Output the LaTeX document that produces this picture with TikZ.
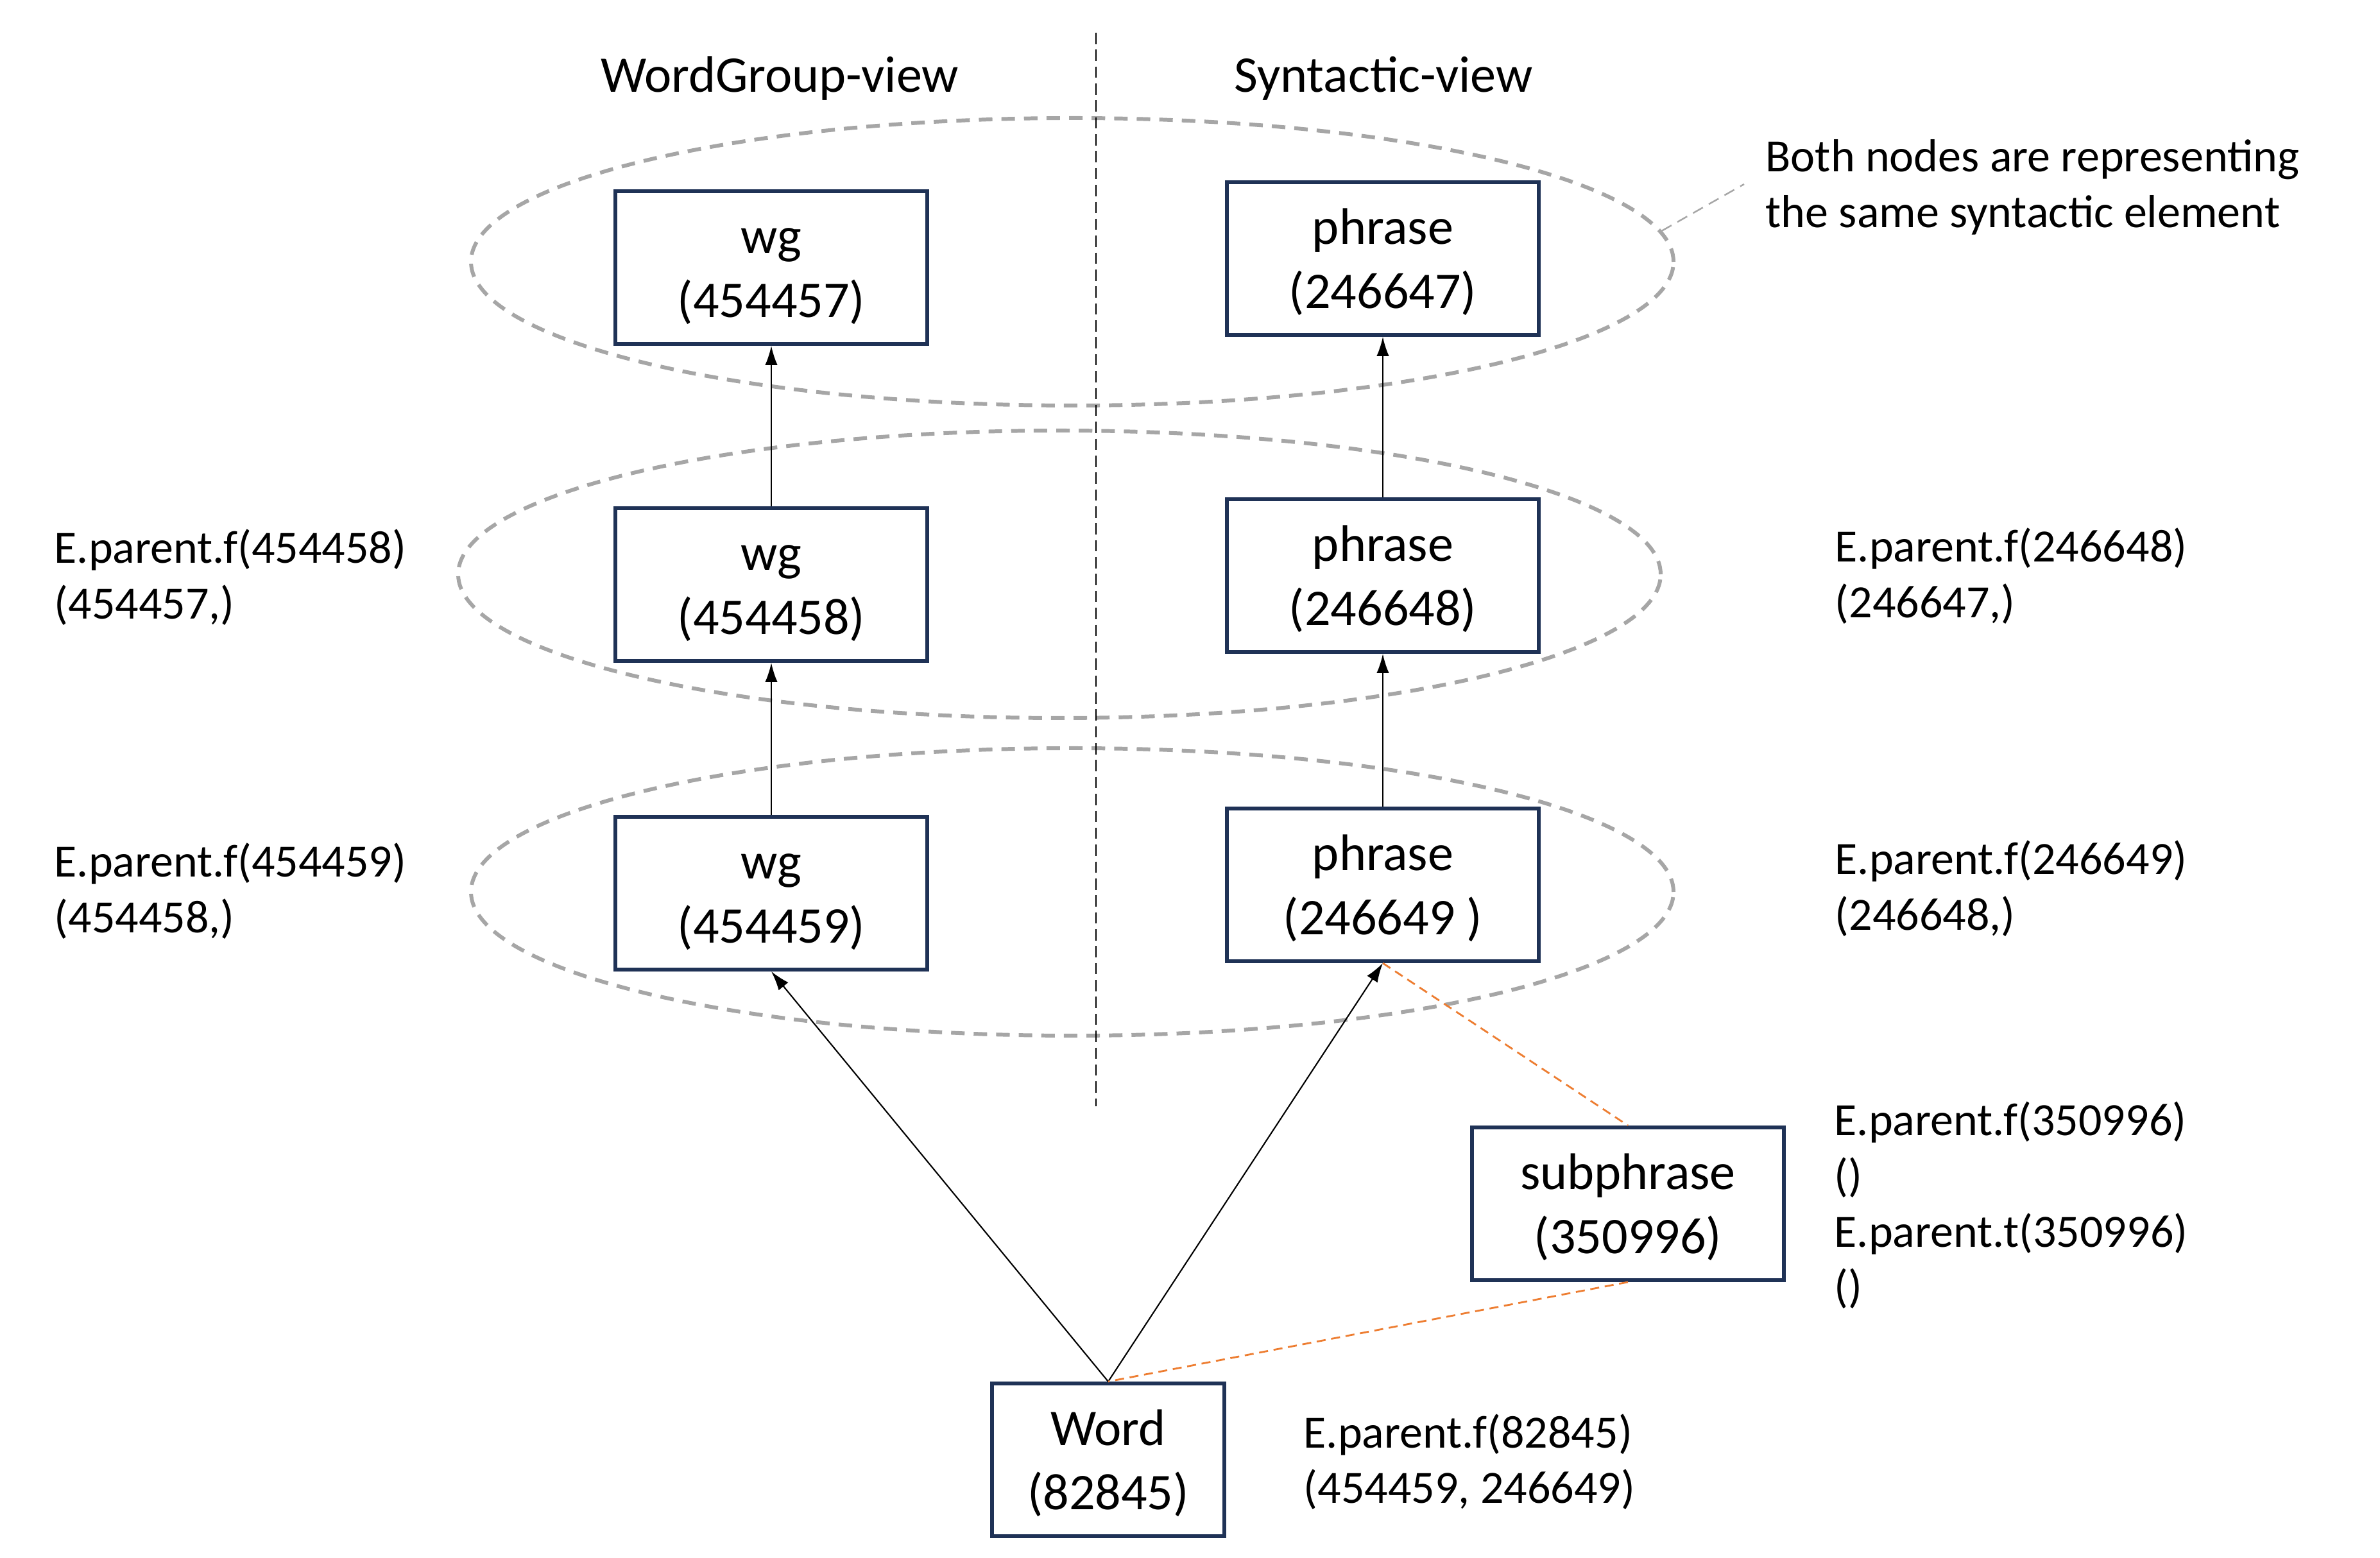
\documentclass[tikz,border=0pt]{standalone}
\usepackage{fontspec}
\setmainfont{Carlito}
\usetikzlibrary{arrows.meta,shapes.geometric}
\definecolor{boxblue}{HTML}{1F3256}
\definecolor{ringgrey}{HTML}{A6A6A6}
\definecolor{linkorange}{HTML}{ED7D31}
\newcommand{\boxfont}{\fontsize{22.8}{28.45}\selectfont}
\newcommand{\notefont}{\fontsize{20.5}{24.75}\selectfont}

\begin{document}
\begin{tikzpicture}[
    elembox/.style={draw=boxblue, line width=1.7pt, fill=white, minimum width=4.86cm, minimum height=2.38cm, align=center, font=\boxfont, inner sep=0pt,
        text height=47.95pt, text depth=4pt},
    ring/.style={ellipse, draw=ringgrey, line width=1.7pt, dash pattern=on 6pt off 4pt, minimum width=18.74cm, minimum height=4.48cm, inner sep=0pt},
    parentarrow/.style={-{Latex[length=8.5pt,width=5.5pt]}, line width=0.6pt},
    samelink/.style={draw=linkorange, line width=0.8pt, dash pattern=on 4pt off 2.5pt},
    notelink/.style={draw=ringgrey, line width=0.7pt, dash pattern=on 5pt off 3pt},
    note/.style={anchor=base west, align=left, font=\notefont, inner sep=0pt},
    heading/.style={anchor=base, font=\boxfont, inner sep=0pt}
]
    \useasboundingbox (0,0) rectangle (37.09,24.28);

    % Level rings (same syntactic element)
    \node[ring] (ring1) at (16.71, 20.20) {};
    \node[ring] (ring2) at (16.51, 15.33) {};
    \node[ring] (ring3) at (16.71, 10.38) {};

    % View headings & divider
    \node[heading] (wgview) at (12.15, 22.84) {WordGroup-view};
    \node[heading] (synview) at (21.56, 22.84) {Syntactic-view};
    \coordinate (divtop) at (17.08, 23.77);
    \coordinate (divbot) at (17.08, 7.04);
    \draw[line width=0.7pt, dash pattern=on 5pt off 2.5pt] (divtop) -- (divbot);

    % WordGroup-view (left)
    \node[elembox] (wg1) at (12.02, 20.11) {wg\\(454457)};
    \node[elembox] (wg2) at (12.02, 15.17) {wg\\(454458)};
    \node[elembox] (wg3) at (12.02, 10.36) {wg\\(454459)};

    % Syntactic-view (right)
    \node[elembox] (phrase1) at (21.55, 20.25) {phrase\\(246647)};
    \node[elembox] (phrase2) at (21.55, 15.31) {phrase\\(246648)};
    \node[elembox] (phrase3) at (21.55, 10.49) {phrase\\(246649 )};
    \node[elembox] (subphrase) at (25.37, 5.52) {subphrase\\(350996)};

    % Word
    \node[elembox, minimum width=3.62cm] (word) at (17.27, 1.53) {Word\\(82845)};

    % Parent arrows
    \draw[parentarrow] (wg2) -- (wg1);
    \draw[parentarrow] (wg3) -- (wg2);
    \draw[parentarrow] (phrase2) -- (phrase1);
    \draw[parentarrow] (phrase3) -- (phrase2);
    \draw[parentarrow] (word.north) -- (wg3.south);
    \draw[parentarrow] (word.north) -- (phrase3.south);

    % Subphrase links
    \draw[samelink] (phrase3.south) -- (subphrase.north);
    \draw[samelink] (subphrase.south) -- (word.north);

    % Annotations (placed at baseline of last line)
    \node[note] (notetxt) at (27.51, 20.73) {Both nodes are representing\\the same syntactic element};
    \coordinate (noteend) at (27.18, 21.41);
    \draw[notelink] (ring1.3) -- (noteend);

    \node[note] (wg2lbl) at (0.84, 14.63) {E.parent.f(454458)\\(454457,)};
    \node[note] (wg3lbl) at (0.84, 9.74) {E.parent.f(454459)\\(454458,)};
    \node[note] (ph2lbl) at (28.59, 14.65) {E.parent.f(246648)\\(246647,)};
    \node[note] (ph3lbl) at (28.59, 9.78) {E.parent.f(246649)\\(246648,)};
    \node[note] (sublbl) at (28.58, 3.98) {E.parent.f(350996)\\()\\E.parent.t(350996)\\()};
    \node[note] (wordlbl) at (20.31, 0.85) {E.parent.f(82845)\\(454459, 246649)};
\end{tikzpicture}
\end{document}
